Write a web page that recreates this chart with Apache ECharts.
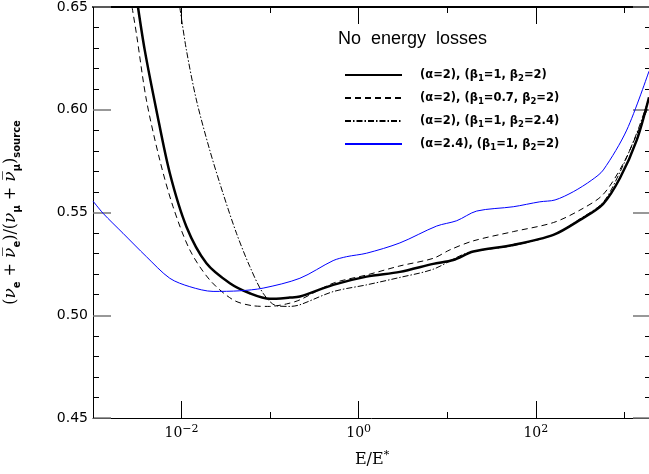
<!DOCTYPE html>
<html>
<head>
<meta charset="utf-8">
<script src="https://cdn.jsdelivr.net/npm/echarts@6/dist/echarts.min.js"></script>
<style>
html,body{margin:0;padding:0;background:#fff;}
#chart{width:649px;height:474px;}
</style>
</head>
<body>
<div id="chart"></div>
<script>
// ---- axis ranges & ticks ----
const X_MIN = 0.001;
const X_MAX = 2000;
const Y_MIN = 0.45;
const Y_MAX = 0.65;
const Y_STEP = 0.05;
const xMajorExp = [-2, 0, 2];       // labelled decades (long ticks)
const xMinorExp = [-3, -1, 1, 3];   // unlabelled decades (short ticks)

// ---- series: (alpha=2), (beta1=1, beta2=2)  thick solid ----
const solidE = [0.00322, 0.00384, 0.00520, 0.00736, 0.01135, 0.0191, 0.0351, 0.0590, 0.0993, 0.167, 0.217, 0.515, 1.23, 2.92, 6.95, 11.7, 19.7, 55.7, 158, 316, 574, 893, 1380, 1900];
const solidV = [0.650, 0.629, 0.5998, 0.5692, 0.5431, 0.5253, 0.5156, 0.5107, 0.5080, 0.5086, 0.5091, 0.5148, 0.5188, 0.5211, 0.5250, 0.5269, 0.5310, 0.5342, 0.5391, 0.5464, 0.5541, 0.5668, 0.5852, 0.6061];

// ---- (alpha=2), (beta1=0.7, beta2=2)  dashed ----
const dashE = [0.00276, 0.00309, 0.00401, 0.00568, 0.00802, 0.01239, 0.0208, 0.0382, 0.0643, 0.0993, 0.153, 0.217, 0.515, 1.23, 2.92, 6.95, 10.7, 19.7, 55.7, 158, 316, 574, 975, 1503, 1866];
const dashV = [0.650, 0.6371, 0.6047, 0.5755, 0.5528, 0.5318, 0.5172, 0.5075, 0.5046, 0.5043, 0.5055, 0.5075, 0.5156, 0.5196, 0.5240, 0.5277, 0.5318, 0.5362, 0.5407, 0.5451, 0.5512, 0.5587, 0.5739, 0.5917, 0.6014];

// ---- (alpha=2), (beta1=1, beta2=2.4)  dash-dot ----
const dotE = [0.00955, 0.01135, 0.01472, 0.0208, 0.0294, 0.0417, 0.0590, 0.0834, 0.118, 0.167, 0.217, 0.515, 1.23, 2.92, 6.95, 16.6, 55.7, 158, 316, 574, 893, 1380, 1866];
const dotV = [0.650, 0.629, 0.6047, 0.5804, 0.5593, 0.5399, 0.5237, 0.5107, 0.5046, 0.5043, 0.5051, 0.5115, 0.5148, 0.5184, 0.5224, 0.5302, 0.5339, 0.5391, 0.5469, 0.5549, 0.5697, 0.5886, 0.6047];

// ---- (alpha=2.4), (beta1=1, beta2=2)  blue ----
const blueE = [0.001, 0.0013, 0.00218, 0.00401, 0.00736, 0.01239, 0.0227, 0.0455, 0.0834, 0.217, 0.515, 0.730, 1.23, 2.92, 7.59, 12.8, 21.5, 55.7, 111, 165, 265, 429, 579, 1064, 1900];
const blueV = [0.5556, 0.5496, 0.5399, 0.5285, 0.5180, 0.5139, 0.5116, 0.5119, 0.5132, 0.5180, 0.5266, 0.5285, 0.5302, 0.5352, 0.5434, 0.5460, 0.5507, 0.5528, 0.5552, 0.5561, 0.5601, 0.5658, 0.5707, 0.5901, 0.6188];

const names = [
  '(α=2), (β{s|1}=1, β{s|2}=2)',
  '(α=2), (β{s|1}=0.7, β{s|2}=2)',
  '(α=2), (β{s|1}=1, β{s|2}=2.4)',
  '(α=2.4), (β{s|1}=1, β{s|2}=2)'
];

function pairs(xs, ys) { return xs.map((x, i) => [x, ys[i]]); }

const chart = echarts.init(document.getElementById('chart'), null, {renderer: 'canvas'});

const expMin = Math.log10(X_MIN);
const expMax = Math.log10(X_MAX);

function tickAxis(pos, values, len, extra) {
  return Object.assign({
    type: 'value', position: pos, gridIndex: 0,
    min: expMin, max: expMax,
    axisLine: {show: false, onZero: false},
    axisTick: {show: true, inside: true, length: len, customValues: values, lineStyle: {color: '#000', width: 1}},
    axisLabel: {show: false},
    splitLine: {show: false}
  }, extra || {});
}

const option = {
  animation: false,
  backgroundColor: '#fff',
  title: {
    text: 'No  energy  losses',
    left: 338, top: 30, padding: 0,
    textStyle: {fontFamily: 'Liberation Sans', fontSize: 18, fontWeight: 'normal', color: '#000'}
  },
  legend: {
    orient: 'vertical', left: 344, top: 67, padding: 0,
    itemWidth: 57, itemHeight: 14, itemGap: 7,
    data: names,
    itemStyle: {color: 'rgba(0,0,0,0)', borderColor: 'rgba(0,0,0,0)', borderWidth: 0},
    textStyle: {
      fontFamily: 'DejaVu Sans', fontWeight: 'bold', fontSize: 11.5, color: '#000',
      lineHeight: 16,
      padding: [0, 0, 0, 13],
      rich: {s: {fontFamily: 'DejaVu Sans', fontWeight: 'bold', fontSize: 8.5, verticalAlign: 'bottom', lineHeight: 8}}
    }
  },
  grid: {left: 93, right: -2, top: 7, bottom: 56, containLabel: false, outerBoundsMode: 'none'},
  xAxis: [
    {type: 'log', logBase: 10, min: X_MIN, max: X_MAX, show: false},
    tickAxis('bottom', xMajorExp, 17, {
      axisLine: {show: true, onZero: false, lineStyle: {color: '#000', width: 1}},
      axisLabel: {
        show: true, customValues: xMajorExp, margin: 6,
        formatter: v => '{b|10}{p|' + (v < 0 ? '−' : '') + Math.abs(v) + '}',
        rich: {
          b: {fontFamily: 'DejaVu Serif', fontSize: 14, color: '#000', lineHeight: 18},
          p: {fontFamily: 'DejaVu Serif', fontSize: 11, color: '#000', verticalAlign: 'top', lineHeight: 12}
        }
      },
      name: '{b|E/E}{p|*}', nameLocation: 'middle', nameGap: 32,
      nameTextStyle: {
        rich: {
          b: {fontFamily: 'DejaVu Serif', fontSize: 16, color: '#000', lineHeight: 20},
          p: {fontFamily: 'DejaVu Serif', fontSize: 11, color: '#000', verticalAlign: 'top', lineHeight: 12}
        }
      }
    }),
    tickAxis('bottom', xMinorExp, 6),
    tickAxis('top', xMajorExp, 17, {axisLine: {show: true, onZero: false, lineStyle: {color: '#000', width: 2}}}),
    tickAxis('top', xMinorExp, 6)
  ],
  yAxis: [
    {
      type: 'value', position: 'left', min: Y_MIN, max: Y_MAX, interval: Y_STEP,
      axisLine: {show: true, onZero: false, lineStyle: {color: '#000', width: 1}},
      axisTick: {show: true, inside: true, length: 18, lineStyle: {color: '#777', width: 1.5}},
      minorTick: {show: true, splitNumber: 5, length: 6, lineStyle: {color: '#000', width: 1}},
      splitLine: {show: false}, minorSplitLine: {show: false},
      axisLabel: {formatter: v => v.toFixed(2), fontFamily: 'DejaVu Sans', fontSize: 14, color: '#000', margin: 5},
      name: '({n|ν}{s|e} + {n|ν̅}{s|e})/({n|ν}{s|μ} + {n|ν̅}{s|μ}){s|source}',
      nameLocation: 'middle', nameRotate: 90, nameGap: 71,
      nameTextStyle: {
        fontFamily: 'DejaVu Serif', fontSize: 16, color: '#000', lineHeight: 22,
        rich: {
          n: {fontFamily: 'DejaVu Serif', fontStyle: 'italic', fontSize: 17, color: '#000', lineHeight: 22},
          s: {fontFamily: 'DejaVu Sans', fontWeight: 'bold', fontSize: 10, color: '#000', verticalAlign: 'bottom', lineHeight: 11}
        }
      }
    },
    {
      type: 'value', position: 'right', min: Y_MIN, max: Y_MAX, interval: Y_STEP,
      axisLine: {show: true, onZero: false, lineStyle: {color: '#000', width: 1}},
      axisTick: {show: true, inside: true, length: 18, lineStyle: {color: '#777', width: 1.5}},
      minorTick: {show: true, splitNumber: 5, length: 6, lineStyle: {color: '#000', width: 1}},
      splitLine: {show: false}, minorSplitLine: {show: false},
      axisLabel: {show: false}
    }
  ],
  series: [
    {name: names[0], type: 'line', xAxisIndex: 0, yAxisIndex: 0, data: pairs(solidE, solidV),
     symbol: 'none', smooth: 0.3, lineStyle: {color: '#000', width: 2.5}, itemStyle: {color: '#000'}},
    {name: names[1], type: 'line', xAxisIndex: 0, yAxisIndex: 0, data: pairs(dashE, dashV),
     symbol: 'none', smooth: 0.3, lineStyle: {color: '#000', width: 1, type: [6, 4]}, itemStyle: {color: '#000'}},
    {name: names[2], type: 'line', xAxisIndex: 0, yAxisIndex: 0, data: pairs(dotE, dotV),
     symbol: 'none', smooth: 0.3, lineStyle: {color: '#000', width: 1, type: [6, 2, 1.5, 2]}, itemStyle: {color: '#000'}},
    {name: names[3], type: 'line', xAxisIndex: 0, yAxisIndex: 0, data: pairs(blueE, blueV),
     symbol: 'none', smooth: 0.3, lineStyle: {color: '#0000ff', width: 1}, itemStyle: {color: '#0000ff'}}
  ]
};
chart.setOption(option);
</script>
</body>
</html>
